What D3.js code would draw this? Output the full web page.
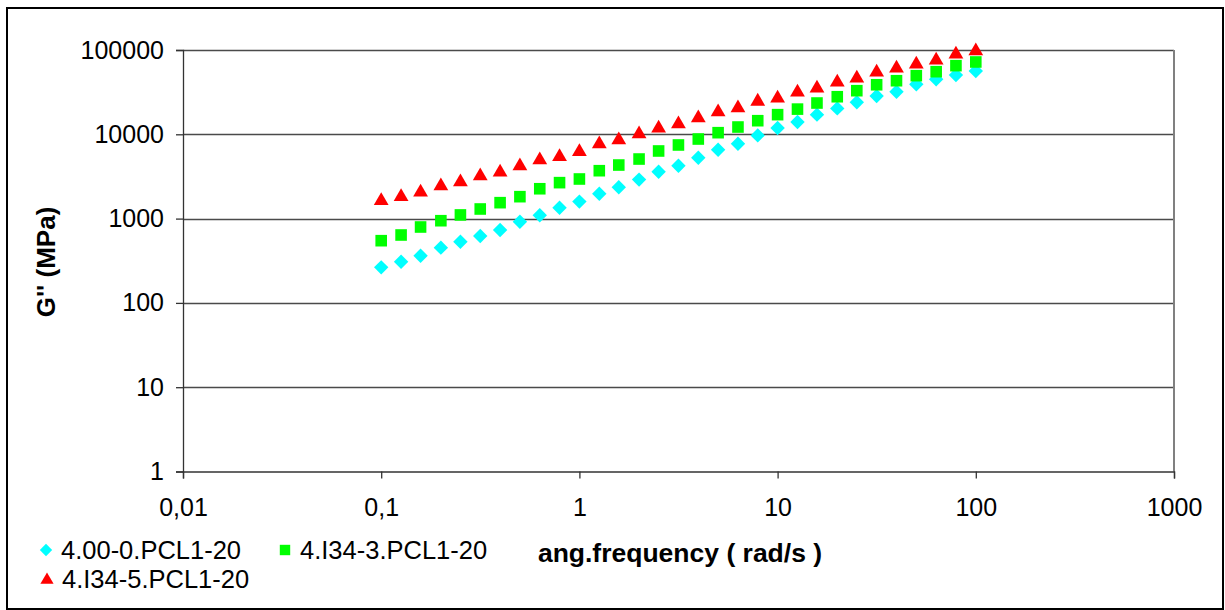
<!DOCTYPE html>
<html>
<head>
<meta charset="utf-8">
<script src="https://cdn.jsdelivr.net/npm/d3@7"></script>
<style>
  html, body { margin: 0; padding: 0; background: #fff; }
  svg { display: block; font-family: "Liberation Sans", Arial, sans-serif; }
</style>
</head>
<body>
<svg id="chart" width="1225" height="610"></svg>
<script>
// Angular frequency sweep (rad/s), 10 points per decade
const freq = [0.1, 0.126, 0.158, 0.2, 0.251, 0.316, 0.398, 0.501, 0.631, 0.794,
  1, 1.26, 1.58, 2, 2.51, 3.16, 3.98, 5.01, 6.31, 7.94,
  10, 12.6, 15.8, 20, 25.1, 31.6, 39.8, 50.1, 63.1, 79.4, 100];

// Loss modulus G'' (MPa) for each sample
const g00 = [264, 308, 363, 452, 532, 622, 733, 919, 1094, 1346,
  1590, 1970, 2350, 2900, 3600, 4240, 5270, 6560, 7740, 9700,
  11900, 14000, 17100, 20300, 24000, 28500, 32000, 39200, 44900, 50500, 56400];
const g34_3 = [547, 639, 795, 944, 1105, 1300, 1545, 1820, 2260, 2670,
  2950, 3700, 4320, 5090, 6340, 7470, 8790, 10450, 12200, 14500,
  17100, 19900, 23500, 27900, 32900, 38700, 43200, 49600, 55300, 65200, 72100];
const g34_5 = [1630, 1820, 2050, 2440, 2720, 3200, 3540, 4210, 4960, 5420,
  6220, 7670, 8550, 10090, 11780, 13250, 15600, 18400, 20500, 24550,
  26700, 31500, 35100, 41400, 46200, 54400, 60700, 67700, 75500, 89000, 97300];

const seriesNames = ["4.00-0.PCL1-20", "4.I34-3.PCL1-20", "4.I34-5.PCL1-20"];
const seriesColors = ["#00FFFF", "#00FF00", "#FF0000"];
const seriesShapes = ["diamond", "square", "triangle"];

const xTicks = [0.01, 0.1, 1, 10, 100, 1000];
const xTickLabels = ["0,01", "0,1", "1", "10", "100", "1000"];
const yTicks = [1, 10, 100, 1000, 10000, 100000];
const yTickLabels = ["1", "10", "100", "1000", "10000", "100000"];

const svg = d3.select("#chart");

// Outer chart frame
svg.append("rect")
  .attr("x", 7).attr("y", 8).attr("width", 1216).attr("height", 601)
  .attr("fill", "#fff").attr("stroke", "#000").attr("stroke-width", 2);

const plot = { left: 183, right: 1174, top: 50, bottom: 471.5 };

const x = d3.scaleLog().domain([0.01, 1000]).range([plot.left, plot.right]);
const y = d3.scaleLog().domain([1, 100000]).range([plot.bottom, plot.top]);

// Horizontal gridlines at each decade
svg.append("g")
  .selectAll("line")
  .data(yTicks.slice(1))
  .join("line")
  .attr("x1", plot.left).attr("x2", plot.right)
  .attr("y1", d => Math.round(y(d)) + 0.5).attr("y2", d => Math.round(y(d)) + 0.5)
  .attr("stroke", "#4a4a4a").attr("stroke-width", 1.3);

// Right edge of the plot area
svg.append("line")
  .attr("x1", plot.right).attr("x2", plot.right)
  .attr("y1", plot.top).attr("y2", plot.bottom)
  .attr("stroke", "#808080").attr("stroke-width", 2);

// Y axis
const yAxis = d3.axisLeft(y)
  .tickValues(yTicks)
  .tickFormat((d, i) => yTickLabels[i])
  .tickSize(7).tickPadding(12);
const gy = svg.append("g")
  .attr("transform", `translate(${plot.left},0)`)
  .call(yAxis);
gy.select(".domain").attr("stroke", "#333").attr("stroke-width", 1.3);
gy.selectAll(".tick line").attr("stroke", "#333").attr("stroke-width", 1.3);
gy.selectAll(".tick text")
  .attr("font-size", 25).attr("fill", "#000")
  .attr("font-family", "Liberation Sans, Arial, sans-serif");

// X axis
const xAxis = d3.axisBottom(x)
  .tickValues(xTicks)
  .tickFormat((d, i) => xTickLabels[i])
  .tickSize(7).tickPadding(20);
const gx = svg.append("g")
  .attr("transform", `translate(0,${plot.bottom})`)
  .call(xAxis);
gx.select(".domain").attr("stroke", "#333").attr("stroke-width", 1.3);
gx.selectAll(".tick line").attr("stroke", "#333").attr("stroke-width", 1.3);
gx.selectAll(".tick text")
  .attr("font-size", 25).attr("fill", "#000")
  .attr("font-family", "Liberation Sans, Arial, sans-serif");

// Marker shapes
function markerPath(shape, s) {
  if (shape === "diamond") {
    return `M0,${-s}L${s},0L0,${s}L${-s},0Z`;
  }
  if (shape === "square") {
    return `M${-s},${-s}H${s}V${s}H${-s}Z`;
  }
  const h = s * Math.sqrt(3);
  return `M0,${-h * 2 / 3}L${s},${h / 3}L${-s},${h / 3}Z`;
}
const markerSize = { diamond: 7.2, square: 5.8, triangle: 7.4 };

const seriesValues = [g00, g34_3, g34_5];
seriesValues.forEach((vals, si) => {
  const shape = seriesShapes[si];
  svg.append("g")
    .selectAll("path")
    .data(freq.map((f, i) => ({ f, v: vals[i] })))
    .join("path")
    .attr("transform", d => `translate(${x(d.f)},${y(d.v)})`)
    .attr("d", markerPath(shape, markerSize[shape]))
    .attr("fill", seriesColors[si]);
});

// Axis titles
svg.append("text")
  .attr("transform", "translate(55,262) rotate(-90)")
  .attr("text-anchor", "middle")
  .attr("font-size", 26).attr("font-weight", "bold")
  .text("G'' (MPa)");

svg.append("text")
  .attr("x", 680).attr("y", 562)
  .attr("text-anchor", "middle")
  .attr("font-size", 26.5).attr("font-weight", "bold")
  .text("ang.frequency ( rad/s )");

// Legend
const legendItems = [
  { x: 46, y: 550 },
  { x: 285, y: 550 },
  { x: 47, y: 579 }
];
const legendSize = { diamond: 6.2, square: 5.2, triangle: 6.6 };
const legend = svg.append("g");
legendItems.forEach((pos, i) => {
  const shape = seriesShapes[i];
  legend.append("path")
    .attr("transform", `translate(${pos.x},${pos.y + (shape === "triangle" ? 1 : 0)})`)
    .attr("d", markerPath(shape, legendSize[shape]))
    .attr("fill", seriesColors[i]);
  legend.append("text")
    .attr("x", pos.x + 15).attr("y", pos.y + 9)
    .attr("font-size", 25.5)
    .text(seriesNames[i]);
});
</script>
</body>
</html>
